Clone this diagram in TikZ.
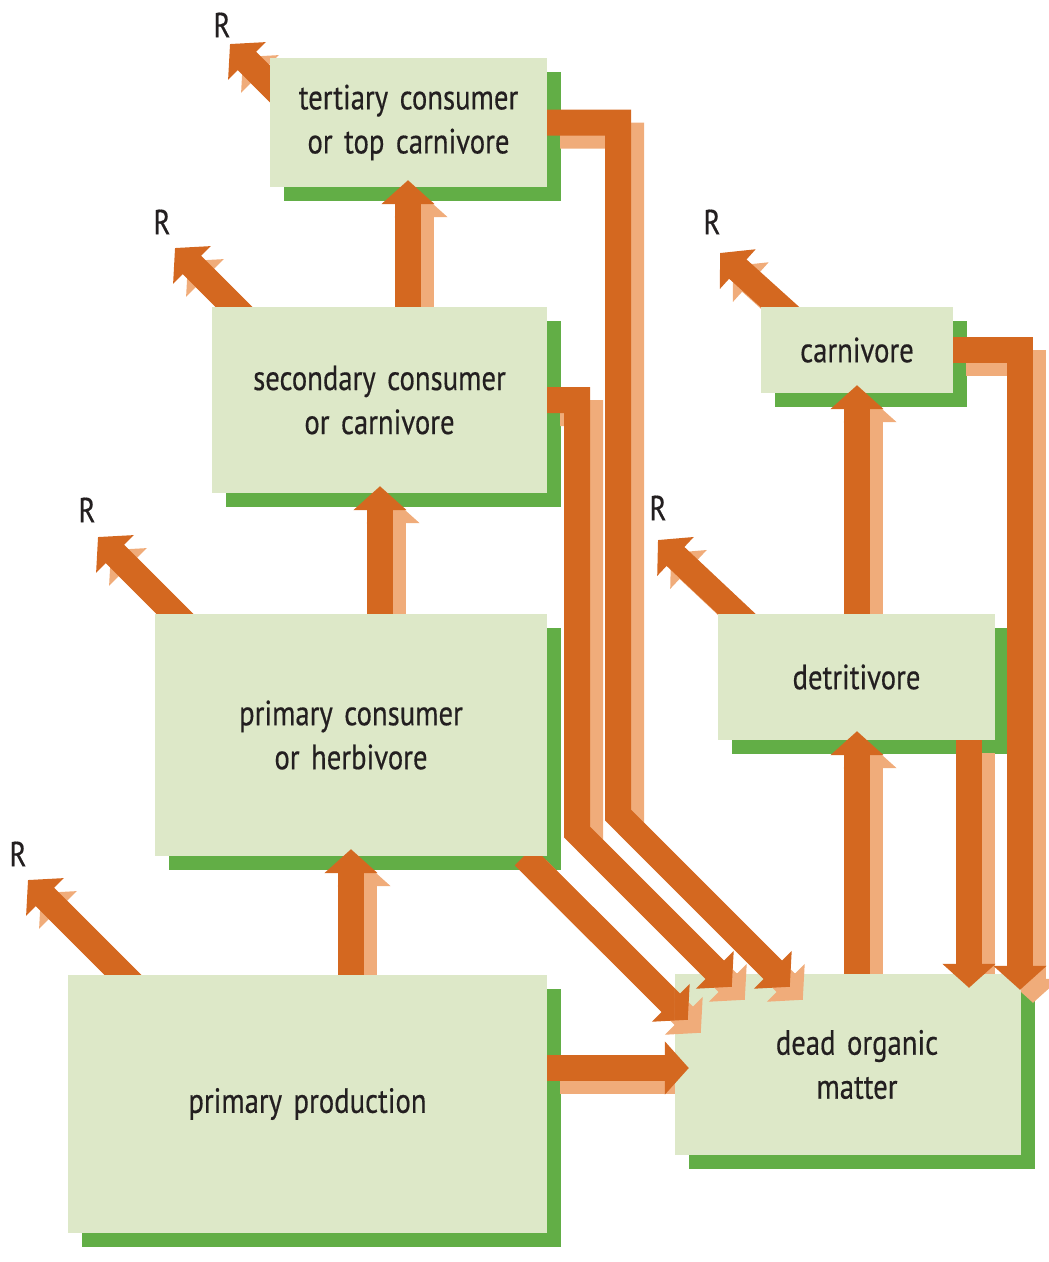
\documentclass[tikz,border=0pt]{standalone}
\usepackage{fontspec}
\setmainfont{PT Sans}[FakeStretch=0.82,FakeBold=0.4,WordSpace=1.5]
\usetikzlibrary{arrows.meta,calc}
\pgfdeclarelayer{bg}\pgfdeclarelayer{arr}\pgfdeclarelayer{fg}
\pgfsetlayers{bg,arr,main,fg}
\definecolor{boxfill}{RGB}{221,232,200}
\definecolor{boxshade}{RGB}{98,174,70}
\definecolor{flowc}{RGB}{212,104,32}
\definecolor{flowl}{RGB}{240,172,122}
\definecolor{txt}{RGB}{35,31,32}
\tikzset{
  box/.style={rectangle, fill=boxfill, inner sep=0pt, align=center, text=txt,
    font=\fontsize{35}{44}\selectfont},
  flow/.style={line width=26pt, draw=flowc, -{Triangle[length=24pt,width=52pt]}},
  flowsh/.style={flow, draw=flowl},
  rlab/.style={font=\fontsize{35}{38}\selectfont, inner sep=0pt, text=txt},
  sh/.style={transform canvas={shift={(13,13)}}}
}
% connectors
\newcommand\flA[1]{\draw[#1] (351,0 |- pp.north) -- ($(351,0 |- pc.south)+(0,-7)$);}
\newcommand\flB[1]{\draw[#1] (380,0 |- pc.north) -- ($(380,0 |- sec.south)+(0,-7)$);}
\newcommand\flC[1]{\draw[#1] (408,0 |- sec.north) -- ($(408,0 |- ter.south)+(0,-7)$);}
\newcommand\flD[1]{\draw[#1] (857,0 |- dead.north) -- ($(857,0 |- det.south)+(0,-9)$);}
\newcommand\flE[1]{\draw[#1] (857,0 |- det.north) -- ($(857,0 |- car.south)+(0,-8)$);}
\newcommand\flF[1]{\draw[#1] (0,1068 -| pp.east) -- ($(0,1068 -| dead.west)+(14,0)$);}
\newcommand\flG[1]{\draw[#1] (524,0 |- pc.south) -- ($(dead.north west)+(13,46)$);}
\newcommand\flH[1]{\draw[#1] (sec.east) -- (577,0 |- sec.east) -- (bsec) -- ($(dead.north west)+(57,13)$);}
\newcommand\flI[1]{\draw[#1] (ter.east) -- (618,0 |- ter.east) -- (bter) -- ($(dead.north west)+(115,13)$);}
\newcommand\flJ[1]{\draw[#1] (car.east) -- (1020,0 |- car.east) -- ($(1020,0 |- dead.north)+(0,16)$);}
\newcommand\flK[1]{\draw[#1] (969,0 |- det.south) -- ($(969,0 |- dead.north)+(0,14)$);}
\newcommand\flRa[1]{\draw[#1] ($(ter.north west)+(30,56)$) -- (tRa);}
\newcommand\flRb[1]{\draw[#1] ($(sec.north west)+(43,21)$) -- (tRb);}
\newcommand\flRc[1]{\draw[#1] ($(pc.north west)+(38,18)$) -- (tRc);}
\newcommand\flRd[1]{\draw[#1] ($(pp.north west)+(75,20)$) -- (tRd);}
\newcommand\flRe[1]{\draw[#1] ($(car.north west)+(41,20)$) -- (tRe);}
\newcommand\flRf[1]{\draw[#1] ($(det.north west)+(40,20)$) -- (tRf);}
\newcommand\allflows[1]{\flA{#1}\flB{#1}\flC{#1}\flD{#1}\flE{#1}\flF{#1}\flG{#1}\flH{#1}\flI{#1}\flJ{#1}\flK{#1}\flRa{#1}\flRb{#1}\flRc{#1}\flRd{#1}\flRe{#1}\flRf{#1}}
\newcommand\bothflow[1]{\begin{scope}[sh]#1{flowsh}\end{scope}#1{flow}}
\begin{document}
\begin{tikzpicture}[x=1pt,y=-1pt]
\useasboundingbox (0,0) rectangle (1049,1262);
% boxes
\node[box, minimum width=277pt, minimum height=129pt] (ter) at (408.5,122.5) {tertiary consumer\\or top carnivore};
\node[box, minimum width=335pt, minimum height=186pt] (sec) at (379.5,400) {secondary consumer\\or carnivore};
\node[box, minimum width=392pt, minimum height=242pt] (pc) at (351,735) {primary consumer\\or herbivore};
\node[box, minimum width=479pt, minimum height=258pt] (pp) at (307.5,1104) {primary production};
\node[box, minimum width=192pt, minimum height=86pt] (car) at (857,350) {carnivore};
\node[box, minimum width=277pt, minimum height=126pt] (det) at (856.5,677) {detritivore};
\node[box, minimum width=346pt, minimum height=181pt] (dead) at (848,1064.5) {\hspace*{18pt}dead organic\\\hspace*{18pt}matter};
% free ends and bends
\coordinate (bsec) at (577,832);
\coordinate (bter) at (618,815);
\coordinate (tRa) at (230,44);
\coordinate (tRb) at (175,248);
\coordinate (tRc) at (98,537);
\coordinate (tRd) at (28,880);
\coordinate (tRe) at (720,253);
\coordinate (tRf) at (658,540);
% R labels
\node[rlab] (Ra) at (222,25) {R};
\node[rlab] (Rb) at (162,222) {R};
\node[rlab] (Rc) at (87,510) {R};
\node[rlab] (Rd) at (18,854) {R};
\node[rlab] (Re) at (712,222) {R};
\node[rlab] (Rf) at (658,508) {R};
% box shadows
\begin{pgfonlayer}{bg}
\foreach \n in {ter,sec,pc,pp,car,det,dead}
  \fill[boxshade] ($(\n.south west)+(14,14)$) rectangle ($(\n.north east)+(14,14)$);
\end{pgfonlayer}
% flows under the boxes
\begin{pgfonlayer}{arr}
\begin{scope}[sh]\allflows{flowsh}\end{scope}
\allflows{flow}
\end{pgfonlayer}
% arrow heads over the target boxes
\begin{pgfonlayer}{fg}
\begin{scope}\clip (dead.south west) rectangle (dead.north east);
  \bothflow\flG \bothflow\flH \bothflow\flI \flF{flow} \flJ{flow} \flK{flow}
\end{scope}
\begin{scope}\clip (pc.south west) rectangle (pc.north east); \flA{flow} \end{scope}
\begin{scope}\clip (sec.south west) rectangle (sec.north east); \flB{flow} \end{scope}
\begin{scope}\clip (ter.south west) rectangle (ter.north east); \flC{flow} \end{scope}
\begin{scope}\clip (det.south west) rectangle (det.north east); \flD{flow} \end{scope}
\begin{scope}\clip (car.south west) rectangle (car.north east); \flE{flow} \end{scope}
\end{pgfonlayer}
\end{tikzpicture}
\end{document}
